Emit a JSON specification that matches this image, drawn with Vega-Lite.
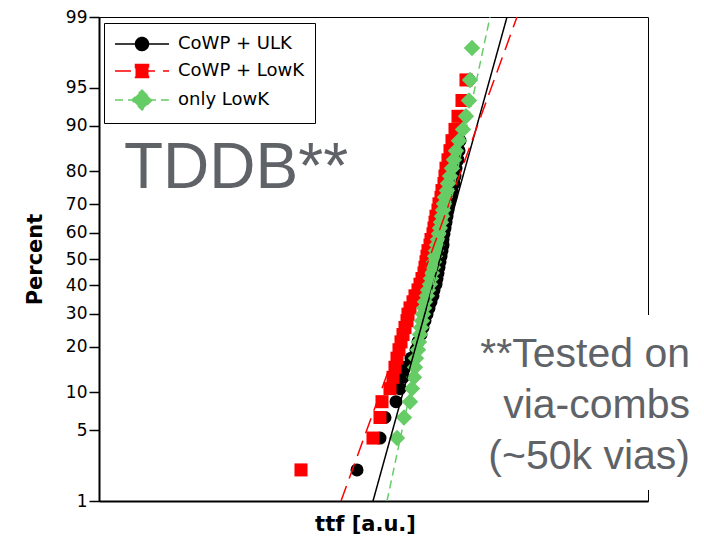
{
  "$schema": "https://vega.github.io/schema/vega-lite/v6.json",
  "width": 549,
  "height": 484,
  "autosize": {"type": "none"},
  "padding": {"left": 99, "top": 17, "right": 56, "bottom": 39},
  "config": {
    "view": {"stroke": "#000000", "strokeWidth": 1},
    "axis": {"labelFont": "DejaVu Sans", "titleFont": "DejaVu Sans", "labelColor": "#000", "titleColor": "#000", "domainColor": "#000", "tickColor": "#000", "grid": false}
  },
  "datasets": {
    "points": [
      {"s":"CoWP + ULK","t":258,"p":2.13},{"s":"CoWP + ULK","t":281,"p":4.26},{"s":"CoWP + ULK","t":286,"p":6.38},{"s":"CoWP + ULK","t":297,"p":8.51},{"s":"CoWP + ULK","t":301,"p":10.64},{"s":"CoWP + ULK","t":304,"p":12.77},{"s":"CoWP + ULK","t":306,"p":14.89},{"s":"CoWP + ULK","t":312,"p":17.02},{"s":"CoWP + ULK","t":317,"p":19.15},{"s":"CoWP + ULK","t":319,"p":21.28},{"s":"CoWP + ULK","t":322,"p":23.40},{"s":"CoWP + ULK","t":324,"p":25.53},{"s":"CoWP + ULK","t":326,"p":27.66},{"s":"CoWP + ULK","t":328,"p":29.79},{"s":"CoWP + ULK","t":330,"p":31.91},{"s":"CoWP + ULK","t":332,"p":34.04},{"s":"CoWP + ULK","t":334,"p":36.17},{"s":"CoWP + ULK","t":335,"p":38.30},{"s":"CoWP + ULK","t":337,"p":40.43},{"s":"CoWP + ULK","t":338,"p":42.55},{"s":"CoWP + ULK","t":339,"p":44.68},{"s":"CoWP + ULK","t":340,"p":46.81},{"s":"CoWP + ULK","t":341,"p":48.94},{"s":"CoWP + ULK","t":342,"p":51.06},{"s":"CoWP + ULK","t":343,"p":53.19},{"s":"CoWP + ULK","t":344,"p":55.32},{"s":"CoWP + ULK","t":344,"p":57.45},{"s":"CoWP + ULK","t":345,"p":59.57},{"s":"CoWP + ULK","t":346,"p":61.70},{"s":"CoWP + ULK","t":347,"p":63.83},{"s":"CoWP + ULK","t":348,"p":65.96},{"s":"CoWP + ULK","t":349,"p":68.09},{"s":"CoWP + ULK","t":350,"p":70.21},{"s":"CoWP + ULK","t":352,"p":72.34},{"s":"CoWP + ULK","t":353,"p":74.47},{"s":"CoWP + ULK","t":355,"p":76.60},{"s":"CoWP + ULK","t":356,"p":78.72},{"s":"CoWP + ULK","t":357,"p":80.85},{"s":"CoWP + ULK","t":359,"p":82.98},{"s":"CoWP + ULK","t":360,"p":85.11},{"s":"CoWP + ULK","t":361,"p":87.23},{"s":"CoWP + ULK","t":362,"p":89.36},{"s":"CoWP + ULK","t":363,"p":91.49},{"s":"CoWP + ULK","t":365,"p":93.62},{"s":"CoWP + ULK","t":370,"p":95.74},
      {"s":"CoWP + LowK","t":202,"p":2.13},{"s":"CoWP + LowK","t":274,"p":4.26},{"s":"CoWP + LowK","t":281,"p":6.38},{"s":"CoWP + LowK","t":283,"p":8.51},{"s":"CoWP + LowK","t":291,"p":10.64},{"s":"CoWP + LowK","t":294,"p":12.77},{"s":"CoWP + LowK","t":296,"p":14.89},{"s":"CoWP + LowK","t":298,"p":17.02},{"s":"CoWP + LowK","t":300,"p":19.15},{"s":"CoWP + LowK","t":302,"p":21.28},{"s":"CoWP + LowK","t":304,"p":23.40},{"s":"CoWP + LowK","t":306,"p":25.53},{"s":"CoWP + LowK","t":308,"p":27.66},{"s":"CoWP + LowK","t":309,"p":29.79},{"s":"CoWP + LowK","t":311,"p":31.91},{"s":"CoWP + LowK","t":314,"p":34.04},{"s":"CoWP + LowK","t":316,"p":36.17},{"s":"CoWP + LowK","t":319,"p":38.30},{"s":"CoWP + LowK","t":321,"p":40.43},{"s":"CoWP + LowK","t":323,"p":42.55},{"s":"CoWP + LowK","t":325,"p":44.68},{"s":"CoWP + LowK","t":326,"p":46.81},{"s":"CoWP + LowK","t":327,"p":48.94},{"s":"CoWP + LowK","t":328,"p":51.06},{"s":"CoWP + LowK","t":329,"p":53.19},{"s":"CoWP + LowK","t":331,"p":55.32},{"s":"CoWP + LowK","t":332,"p":57.45},{"s":"CoWP + LowK","t":334,"p":59.57},{"s":"CoWP + LowK","t":335,"p":61.70},{"s":"CoWP + LowK","t":336,"p":63.83},{"s":"CoWP + LowK","t":337,"p":65.96},{"s":"CoWP + LowK","t":339,"p":68.09},{"s":"CoWP + LowK","t":340,"p":70.21},{"s":"CoWP + LowK","t":342,"p":72.34},{"s":"CoWP + LowK","t":343,"p":74.47},{"s":"CoWP + LowK","t":345,"p":76.60},{"s":"CoWP + LowK","t":346,"p":78.72},{"s":"CoWP + LowK","t":347,"p":80.85},{"s":"CoWP + LowK","t":349,"p":82.98},{"s":"CoWP + LowK","t":351,"p":85.11},{"s":"CoWP + LowK","t":353,"p":87.23},{"s":"CoWP + LowK","t":356,"p":89.36},{"s":"CoWP + LowK","t":359,"p":91.49},{"s":"CoWP + LowK","t":363,"p":93.62},{"s":"CoWP + LowK","t":367,"p":95.74},
      {"s":"only LowK","t":298,"p":4.26},{"s":"only LowK","t":305,"p":6.38},{"s":"only LowK","t":311,"p":8.51},{"s":"only LowK","t":313,"p":10.64},{"s":"only LowK","t":315,"p":12.77},{"s":"only LowK","t":316,"p":14.89},{"s":"only LowK","t":317,"p":17.02},{"s":"only LowK","t":319,"p":19.15},{"s":"only LowK","t":320,"p":21.28},{"s":"only LowK","t":321,"p":23.40},{"s":"only LowK","t":322,"p":25.53},{"s":"only LowK","t":323,"p":27.66},{"s":"only LowK","t":324,"p":29.79},{"s":"only LowK","t":325,"p":31.91},{"s":"only LowK","t":326,"p":34.04},{"s":"only LowK","t":328,"p":36.17},{"s":"only LowK","t":329,"p":38.30},{"s":"only LowK","t":331,"p":40.43},{"s":"only LowK","t":332,"p":42.55},{"s":"only LowK","t":333,"p":44.68},{"s":"only LowK","t":334,"p":46.81},{"s":"only LowK","t":335,"p":48.94},{"s":"only LowK","t":336,"p":51.06},{"s":"only LowK","t":337,"p":53.19},{"s":"only LowK","t":338,"p":55.32},{"s":"only LowK","t":339,"p":57.45},{"s":"only LowK","t":340,"p":59.57},{"s":"only LowK","t":341,"p":61.70},{"s":"only LowK","t":342,"p":63.83},{"s":"only LowK","t":343,"p":65.96},{"s":"only LowK","t":344,"p":68.09},{"s":"only LowK","t":345,"p":70.21},{"s":"only LowK","t":346,"p":72.34},{"s":"only LowK","t":348,"p":74.47},{"s":"only LowK","t":349,"p":76.60},{"s":"only LowK","t":351,"p":78.72},{"s":"only LowK","t":353,"p":80.85},{"s":"only LowK","t":355,"p":82.98},{"s":"only LowK","t":357,"p":85.11},{"s":"only LowK","t":360,"p":87.23},{"s":"only LowK","t":364,"p":89.36},{"s":"only LowK","t":367,"p":91.49},{"s":"only LowK","t":370,"p":93.62},{"s":"only LowK","t":371,"p":95.74},{"s":"only LowK","t":373,"p":97.87}
    ],
    "fits": [
      {"s":"CoWP + ULK","t":274,"p":1},{"s":"CoWP + ULK","t":408,"p":99},
      {"s":"CoWP + LowK","t":242,"p":1},{"s":"CoWP + LowK","t":418,"p":99},
      {"s":"only LowK","t":288,"p":1},{"s":"only LowK","t":391,"p":99}
    ]
  },
  "layer": [
    {
      "data": {"name": "fits"},
      "transform": [{"calculate": "quantileNormal(datum.p / 100)", "as": "z"}],
      "mark": {"type": "point", "filled": true, "size": 0, "strokeWidth": 1.5},
      "encoding": {
        "x": {"field": "t", "type": "quantitative", "scale": {"domain": [0, 549], "nice": false, "zero": false},
              "axis": {"labels": false, "ticks": false, "domainWidth": 2, "title": "ttf [a.u.]", "titleFontSize": 21, "titleFontWeight": "bold", "titlePadding": 12, "titleX": 266}},
        "y": {"field": "z", "type": "quantitative", "scale": {"domain": [-2.3263479, 2.3263479], "nice": false, "zero": false},
              "axis": {"values": [-2.3263479, -1.6448536, -1.2815516, -0.8416212, -0.5244005, -0.2533471, 0, 0.2533471, 0.5244005, 0.8416212, 1.2815516, 1.6448536, 2.3263479],
                       "labelExpr": "format(cumulativeNormal(datum.value) * 100, '.0f')", "labelFontSize": 17, "tickSize": 10, "tickWidth": 1.5, "labelPadding": 2, "domainWidth": 2,
                       "title": "Percent", "titleFontSize": 21, "titleFontWeight": "bold", "titlePadding": 20}},
        "fill": {"field": "s", "type": "nominal", "scale": {"domain": ["CoWP + ULK", "CoWP + LowK", "only LowK"], "range": ["#000000", "#ff0000", "#66cc66"]},
                 "legend": {"title": null, "orient": "none", "legendX": 5, "legendY": 6, "strokeColor": "#000000", "fillColor": "#ffffff", "padding": 10, "symbolSize": 400, "symbolOffset": 17, "symbolStrokeWidth": 1.5, "symbolOpacity": 1, "labelFont": "DejaVu Sans", "labelFontSize": 18, "labelColor": "#000000", "labelOffset": 25, "rowPadding": 6}},
        "stroke": {"field": "s", "type": "nominal", "scale": {"domain": ["CoWP + ULK", "CoWP + LowK", "only LowK"], "range": ["#000000", "#ff0000", "#66cc66"]},
                 "legend": {"title": null, "orient": "none", "legendX": 5, "legendY": 6, "strokeColor": "#000000", "fillColor": "#ffffff", "padding": 10, "symbolSize": 400, "symbolOffset": 17, "symbolStrokeWidth": 1.5, "symbolOpacity": 1, "labelFont": "DejaVu Sans", "labelFontSize": 18, "labelColor": "#000000", "labelOffset": 25, "rowPadding": 6}},
        "shape": {"field": "s", "type": "nominal", "scale": {"domain": ["CoWP + ULK", "CoWP + LowK", "only LowK"],
                  "range": ["M-2.7,0H2.7M-0.65,0A0.65,0.65,0,1,1,0.65,0A0.65,0.65,0,1,1,-0.65,0Z", "M-2.7,0H2.7M-0.65,-0.65H0.65V0.65H-0.65Z", "M-2.7,0H-1.89M-1.4,0H-1M1,0H1.4M1.89,0H2.7M0,-1L1,0L0,1L-1,0Z"]},
                 "legend": {"title": null, "orient": "none", "legendX": 5, "legendY": 6, "strokeColor": "#000000", "fillColor": "#ffffff", "padding": 10, "symbolSize": 400, "symbolOffset": 17, "symbolStrokeWidth": 1.5, "symbolOpacity": 1, "labelFont": "DejaVu Sans", "labelFontSize": 18, "labelColor": "#000000", "labelOffset": 25, "rowPadding": 6}}
      }
    },
    {
      "data": {"name": "points"},
      "transform": [{"filter": "datum.s === 'CoWP + ULK'"}, {"calculate": "quantileNormal(datum.p / 100)", "as": "z"}],
      "mark": {"type": "point", "filled": true, "shape": "circle", "size": 170, "color": "#000000", "opacity": 1, "strokeWidth": 0},
      "encoding": {
        "x": {"field": "t", "type": "quantitative"},
        "y": {"field": "z", "type": "quantitative"}
      }
    },
    {
      "data": {"name": "points"},
      "transform": [{"filter": "datum.s === 'CoWP + LowK'"}, {"calculate": "quantileNormal(datum.p / 100)", "as": "z"}],
      "mark": {"type": "point", "filled": true, "shape": "square", "size": 170, "color": "#ff0000", "opacity": 1, "strokeWidth": 0},
      "encoding": {
        "x": {"field": "t", "type": "quantitative"},
        "y": {"field": "z", "type": "quantitative"}
      }
    },
    {
      "data": {"name": "points"},
      "transform": [{"filter": "datum.s === 'only LowK'"}, {"calculate": "quantileNormal(datum.p / 100)", "as": "z"}],
      "mark": {"type": "point", "filled": true, "shape": "diamond", "size": 270, "color": "#66cc66", "opacity": 1, "strokeWidth": 0},
      "encoding": {
        "x": {"field": "t", "type": "quantitative"},
        "y": {"field": "z", "type": "quantitative"}
      }
    },
    {
      "data": {"name": "fits"},
      "transform": [{"calculate": "quantileNormal(datum.p / 100)", "as": "z"}],
      "mark": {"type": "line", "strokeWidth": 1.5, "clip": true},
      "encoding": {
        "x": {"field": "t", "type": "quantitative"},
        "y": {"field": "z", "type": "quantitative"},
        "color": {"field": "s", "type": "nominal", "scale": {"domain": ["CoWP + ULK", "CoWP + LowK", "only LowK"], "range": ["#000000", "#ff0000", "#66cc66"]}, "legend": null},
        "strokeDash": {"field": "s", "type": "nominal", "scale": {"domain": ["CoWP + ULK", "CoWP + LowK", "only LowK"], "range": [[1, 0], [16, 8], [8, 5]]}, "legend": null}
      }
    },
    {
      "data": {"values": [{}]},
      "mark": {"type": "rect", "fill": "#ffffff"},
      "encoding": {
        "x": {"datum": 371}, "x2": {"datum": 601},
        "y": {"datum": -0.538}, "y2": {"datum": -2.22}
      }
    },
    {
      "data": {"values": [{}]},
      "mark": {"type": "text", "text": "TDDB**", "font": "Liberation Sans", "fontSize": 64, "color": "#5f6368", "align": "left", "baseline": "alphabetic"},
      "encoding": {"x": {"datum": 25}, "y": {"datum": 0.682}}
    },
    {
      "data": {"values": [{}]},
      "mark": {"type": "text", "text": ["**Tested on", "via-combs", "(~50k vias)"], "font": "Liberation Sans", "fontSize": 41, "lineHeight": 51, "color": "#5f6368", "align": "right", "baseline": "alphabetic"},
      "encoding": {"x": {"datum": 591}, "y": {"datum": -1.035}}
    }
  ]
}
